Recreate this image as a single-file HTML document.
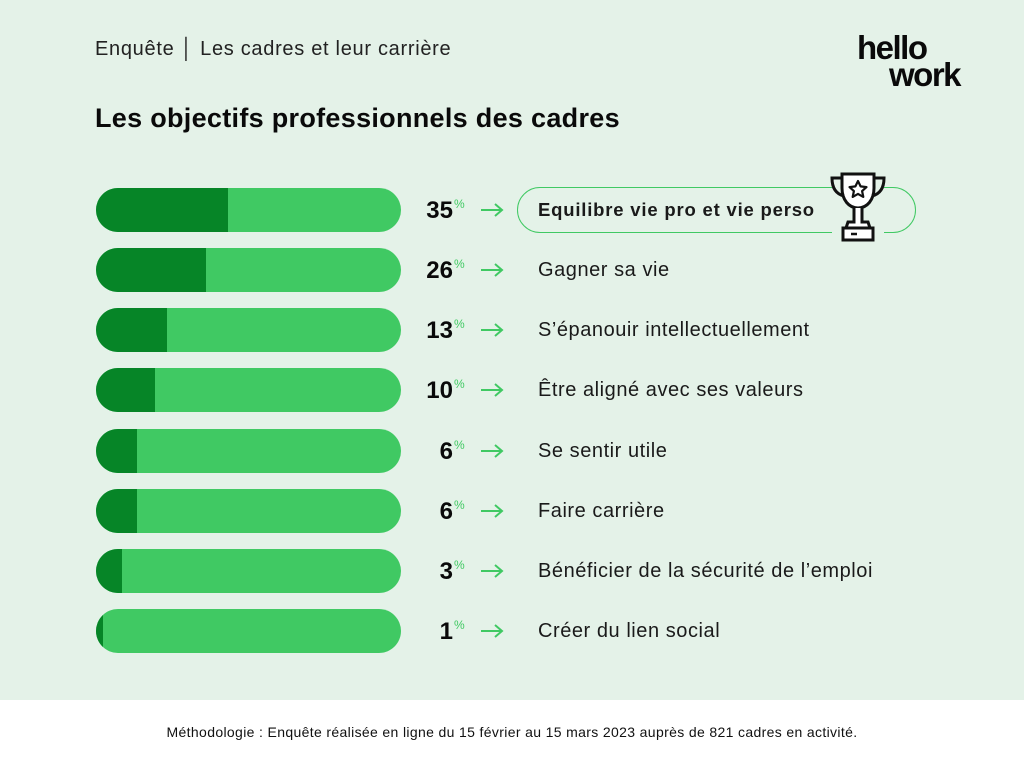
<!DOCTYPE html>
<html><head><meta charset="utf-8"><style>
*{margin:0;padding:0;box-sizing:border-box}
body{width:1024px;height:768px;background:#e4f2e8;font-family:"Liberation Sans",sans-serif;position:relative;overflow:hidden;color:#111}
.hdr{position:absolute;left:95px;top:38px;font-size:20px;letter-spacing:0.7px;color:#222}
.title{position:absolute;left:95px;top:103px;font-size:27px;font-weight:bold;color:#0a0a0a;letter-spacing:0.3px}
.bar{position:absolute;left:96px;width:305px;height:44px;border-radius:22px;background:#40c963;overflow:hidden}
.bar i{position:absolute;left:0;top:0;bottom:0;background:#068527}
.num{position:absolute;width:70px;left:383px;text-align:right;font-size:24px;font-weight:bold;color:#0a0a0a}
.num sup{font-size:12px;color:#40c963;font-weight:normal;vertical-align:11px;position:absolute;margin-left:1px}
.arr{position:absolute;left:480px;width:24px;height:14px}
.lab{position:absolute;left:538px;font-size:20px;letter-spacing:0.55px;color:#1a1a1a}
.foot{position:absolute;left:0;top:700px;width:1024px;height:68px;background:#fff;text-align:center;font-size:14px;letter-spacing:0.35px;line-height:64px;color:#111}
.pill{position:absolute;left:517px;top:187px;width:399px;height:46px;border:1.5px solid #40c963;border-radius:23px}
.logo{position:absolute;left:857px;top:34px;font-size:33px;font-weight:bold;line-height:27px;letter-spacing:-1.5px;color:#0a0a0a}
</style></head><body>
<div class="hdr">Enquête │ Les cadres et leur carrière</div>
<div class="title">Les objectifs professionnels des cadres</div>
<div class="logo">hello<br><span style="margin-left:32px">work</span></div>
<div class="pill"></div>
<svg style="position:absolute;left:826px;top:170px" width="64" height="74" viewBox="0 0 64 74">
<rect x="6" y="0" width="52" height="74" fill="#e4f2e8"/>
<path d="M16 4h32v14c0 12-7 20-16 20s-16-8-16-20z" fill="#fff" stroke="#111" stroke-width="3"/>
<path d="M16 8h-10c0 10 4 16 12 18M48 8h10c0 10-4 16-12 18" fill="none" stroke="#111" stroke-width="3"/>
<path d="M28 38v14h-6l-2 6h24l-2-6h-6v-14" fill="#fff" stroke="#111" stroke-width="3"/>
<rect x="17" y="58" width="30" height="12" fill="#fff" stroke="#111" stroke-width="3"/>
<line x1="25" y1="64" x2="31" y2="64" stroke="#111" stroke-width="2.5"/>
<path d="M32 11l2.6 5.4 5.9.7-4.4 4 1.2 5.8-5.3-3-5.3 3 1.2-5.8-4.4-4 5.9-.7z" fill="none" stroke="#111" stroke-width="2.2" stroke-linejoin="round"/>
</svg>

<div class="bar" style="top:188px"><i style="width:132px"></i></div>
<div class="num" style="top:197px">35<sup>%</sup></div>
<svg class="arr" style="top:203px" viewBox="0 0 24 14"><path d="M1 7h21M15 1l7 6-7 6" fill="none" stroke="#40c963" stroke-width="2"/></svg>
<div class="lab" style="top:199px;font-weight:bold;font-size:18.5px;letter-spacing:0.8px">Equilibre vie pro et vie perso</div>

<div class="bar" style="top:248px"><i style="width:110px"></i></div>
<div class="num" style="top:257px">26<sup>%</sup></div>
<svg class="arr" style="top:263px" viewBox="0 0 24 14"><path d="M1 7h21M15 1l7 6-7 6" fill="none" stroke="#40c963" stroke-width="2"/></svg>
<div class="lab" style="top:259px">Gagner sa vie</div>

<div class="bar" style="top:308px"><i style="width:71px"></i></div>
<div class="num" style="top:317px">13<sup>%</sup></div>
<svg class="arr" style="top:323px" viewBox="0 0 24 14"><path d="M1 7h21M15 1l7 6-7 6" fill="none" stroke="#40c963" stroke-width="2"/></svg>
<div class="lab" style="top:319px">S’épanouir intellectuellement</div>

<div class="bar" style="top:368px"><i style="width:59px"></i></div>
<div class="num" style="top:377px">10<sup>%</sup></div>
<svg class="arr" style="top:383px" viewBox="0 0 24 14"><path d="M1 7h21M15 1l7 6-7 6" fill="none" stroke="#40c963" stroke-width="2"/></svg>
<div class="lab" style="top:379px">Être aligné avec ses valeurs</div>

<div class="bar" style="top:429px"><i style="width:41px"></i></div>
<div class="num" style="top:438px">6<sup>%</sup></div>
<svg class="arr" style="top:444px" viewBox="0 0 24 14"><path d="M1 7h21M15 1l7 6-7 6" fill="none" stroke="#40c963" stroke-width="2"/></svg>
<div class="lab" style="top:440px">Se sentir utile</div>

<div class="bar" style="top:489px"><i style="width:41px"></i></div>
<div class="num" style="top:498px">6<sup>%</sup></div>
<svg class="arr" style="top:504px" viewBox="0 0 24 14"><path d="M1 7h21M15 1l7 6-7 6" fill="none" stroke="#40c963" stroke-width="2"/></svg>
<div class="lab" style="top:500px">Faire carrière</div>

<div class="bar" style="top:549px"><i style="width:26px"></i></div>
<div class="num" style="top:558px">3<sup>%</sup></div>
<svg class="arr" style="top:564px" viewBox="0 0 24 14"><path d="M1 7h21M15 1l7 6-7 6" fill="none" stroke="#40c963" stroke-width="2"/></svg>
<div class="lab" style="top:560px">Bénéficier de la sécurité de l’emploi</div>

<div class="bar" style="top:609px"><i style="width:7px"></i></div>
<div class="num" style="top:618px">1<sup>%</sup></div>
<svg class="arr" style="top:624px" viewBox="0 0 24 14"><path d="M1 7h21M15 1l7 6-7 6" fill="none" stroke="#40c963" stroke-width="2"/></svg>
<div class="lab" style="top:620px">Créer du lien social</div>

<div class="foot">Méthodologie : Enquête réalisée en ligne du 15 février au 15 mars 2023 auprès de 821 cadres en activité.</div>
</body></html>
